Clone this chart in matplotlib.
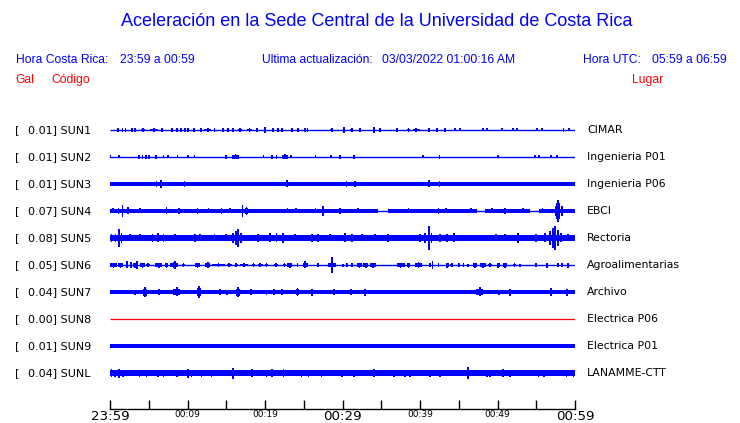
import matplotlib
matplotlib.use("Agg")
import matplotlib.pyplot as plt

# ---------------- data ----------------
codes = ["SUN1", "SUN2", "SUN3", "SUN4", "SUN5", "SUN6", "SUN7", "SUN8", "SUN9", "SUNL"]
gal = [0.01, 0.01, 0.01, 0.07, 0.08, 0.05, 0.04, 0.00, 0.01, 0.04]
places = ["CIMAR", "Ingenieria P01", "Ingenieria P06", "EBCI", "Rectoria",
          "Agroalimentarias", "Archivo", "Electrica P06", "Electrica P01", "LANAMME-CTT"]

tick_minutes = list(range(0, 61, 5))
tick_labels = ["23:59", "", "00:09", "", "00:19", "", "00:29", "", "00:39", "", "00:49", "", "00:59"]
big_labels = ["23:59", "00:29", "00:59"]

# background (noise) half-amplitude of every trace, arbitrary units
base_amp = [0.5, 0.5, 2.0, 1.8, 2.8, 0.5, 1.8, 0.5, 1.7, 2.7]
# stretches (minutes) where the SUN4 trace falls to a thin line
sun4_quiet = [(34.6, 35.9), (47.3, 48.4), (54.2, 55.4)]

# bursts: (minute, duration in minutes, half-amplitude)
sun1_bursts = [(1.0, 0, 1.8), (1.6, 0, 1.8), (2.0, 0, 1.8), (2.8, 0, 1.8), (3.2, 0, 1.8),
               (4.3, 0.5, 2.0), (5.7, 1.0, 2.0), (6.7, 0, 1.8), (8.0, 0, 1.8), (8.6, 0, 1.8),
               (9.2, 0, 1.8), (9.7, 0, 1.8), (10.1, 0, 1.8), (10.8, 0, 1.8), (11.7, 0, 1.8),
               (12.6, 0.9, 2.0), (13.5, 0, 1.8), (14.6, 0, 1.8), (15.2, 0, 1.8), (15.9, 0, 1.8),
               (16.8, 0.5, 2.0), (18.0, 0.6, 2.0), (19.0, 0, 1.8), (20.0, 0, 3.0), (21.0, 0, 1.8),
               (21.7, 0, 1.8), (22.2, 0, 1.8), (23.5, 0, 1.8), (24.3, 0, 1.8), (25.2, 0, 1.8),
               (25.5, 0, 1.8), (28.6, 0.4, 2.0), (30.2, 0, 3.0), (31.2, 0.4, 1.8), (32.3, 0, 1.8),
               (34.1, 0, 3.0), (34.8, 0, 1.8), (37.0, 0, 1.8), (38.5, 0.4, 1.8), (39.5, 0.9, 2.0),
               (41.2, 0.3, 1.8), (42.2, 0, 1.8), (43.2, 0, 1.8), (44.5, 0, 1.5), (45.2, 0, 1.5),
               (48.1, 0, 1.5), (48.6, 0, 1.5), (50.6, 0, 1.5), (52.0, 0, 1.5), (52.5, 0, 1.5),
               (55.1, 0, 1.5), (55.7, 0, 1.5), (58.5, 0, 1.8), (59.2, 0, 1.5)]
sun2_bursts = [(0.0, 0, 1.5), (1.2, 0, 1.5), (3.7, 0.3, 2.0), (4.2, 0, 1.8), (4.6, 0, 1.8),
               (5.0, 0, 1.8), (5.9, 0, 1.8), (6.9, 0, 1.5), (7.5, 0, 1.5), (8.7, 0, 1.5),
               (10.1, 0, 1.5), (10.9, 0, 1.5), (15.0, 0.3, 1.8), (16.2, 0.8, 2.5), (19.8, 0, 1.5),
               (20.9, 0.3, 1.8), (21.5, 0, 1.8), (22.6, 0.8, 2.5), (23.4, 0, 1.5), (26.5, 0, 1.5),
               (28.5, 0, 1.5), (29.7, 0, 1.8), (31.5, 0, 1.8), (40.4, 0, 1.5), (42.5, 0, 2.0),
               (50.1, 0, 1.5), (54.8, 0, 1.5), (55.4, 0, 1.5), (56.9, 0, 1.5), (57.7, 0, 1.5)]
sun3_bursts = [(6.0, 0, 3.0), (6.6, 0, 4.0), (9.6, 0, 3.0), (22.8, 0, 3.5), (30.5, 0, 3.0),
               (31.6, 0, 3.0), (41.2, 0, 3.5), (42.5, 0, 3.0)]
sun4_bursts = [(0.4, 0.4, 2.5), (1.1, 0, 3.0), (1.6, 0, 6.0), (2.3, 0.5, 3.5), (3.9, 0, 2.5),
               (7.3, 0, 3.5), (8.9, 0, 3.0), (11.3, 0, 3.0), (12.7, 0, 2.5), (14.4, 0.4, 3.0),
               (15.5, 0, 2.5), (17.1, 0, 6.0), (17.6, 0.4, 4.0), (22.9, 0, 2.5), (24.0, 0, 2.5),
               (26.5, 0, 2.5), (27.5, 0, 5.0), (29.7, 0, 3.0), (32.0, 0, 2.5), (38.5, 0, 2.5),
               (42.4, 0.3, 3.0), (43.4, 0, 2.5), (46.6, 0.3, 2.5), (49.3, 0, 2.5), (51.0, 0.4, 3.0),
               (53.3, 0, 2.5), (55.8, 0, 2.5), (57.5, 0, 5.0), (57.8, 0.5, 11.0), (58.3, 0, 5.0)]
sun5_bursts = [(0.2, 0.3, 4.0), (0.7, 0, 4.0), (1.2, 0.3, 9.0), (1.5, 0, 5.0), (2.6, 0, 3.5),
               (3.9, 0, 3.5), (5.5, 0.5, 4.0), (6.2, 0.6, 4.5), (6.9, 0.4, 4.0), (8.4, 0, 3.5),
               (11.0, 0.4, 4.0), (11.6, 0, 3.5), (13.5, 0, 3.5), (15.0, 0, 3.5), (15.9, 0.3, 5.0),
               (16.3, 0, 7.0), (16.5, 0.3, 9.0), (16.9, 0, 5.0), (19.1, 0.4, 4.0), (20.6, 0.5, 4.5),
               (21.5, 0.4, 4.5), (22.3, 0, 5.0), (23.9, 0, 3.5), (26.1, 0.4, 4.0), (26.8, 0.4, 4.0),
               (28.4, 0, 3.5), (30.3, 0.5, 4.5), (31.2, 0.4, 4.0), (32.5, 0, 3.5), (34.2, 0, 3.5),
               (35.9, 0.4, 4.0), (40.0, 0.4, 4.0), (40.6, 0, 5.0), (41.2, 0.3, 12.0), (41.5, 0, 5.0),
               (42.6, 0.5, 4.0), (43.5, 0.5, 4.0), (44.4, 0.3, 4.5), (49.8, 0, 3.5), (51.0, 0, 3.5),
               (52.6, 0, 5.0), (55.0, 0.5, 4.0), (56.1, 0.5, 4.5), (56.8, 0.3, 7.0), (57.2, 0, 10.0),
               (57.4, 0.4, 12.0), (57.8, 0, 8.0), (58.2, 0.4, 4.5), (59.1, 0, 3.5)]
sun6_bursts = [(0.45, 0.9, 2.5), (1.35, 0.6, 2.5), (2.2, 0.3, 3.5), (2.7, 0, 3.0), (3.2, 0.4, 2.5),
               (3.5, 0, 4.0), (4.2, 0.6, 2.5), (4.9, 0.4, 2.0), (6.3, 0.9, 2.5), (7.3, 0.4, 2.5),
               (8.3, 1.0, 3.0), (8.4, 0, 4.0), (9.5, 0.4, 2.0), (11.3, 0.6, 2.5), (12.6, 0.6, 3.0),
               (14.0, 1.7, 2.0), (15.4, 0.6, 2.0), (16.3, 0.4, 2.0), (17.3, 1.0, 2.0), (18.5, 0.4, 2.0),
               (19.4, 0.6, 2.0), (20.2, 0.4, 2.0), (21.4, 0.6, 2.0), (22.5, 0.3, 2.0), (23.2, 0.6, 2.5),
               (24.2, 0, 2.0), (25.2, 0.6, 3.5), (26.8, 0.3, 2.0), (28.6, 1.0, 3.0), (28.6, 0, 8.0),
               (30.1, 0, 1.5), (30.6, 0, 2.0), (31.2, 0, 2.0), (32.2, 0.6, 2.5), (33.0, 0.6, 2.5),
               (33.9, 0.8, 2.5), (37.5, 1.0, 2.5), (38.5, 0.4, 2.5), (39.8, 0.9, 3.0), (41.3, 0, 2.0),
               (41.6, 0, 4.0), (42.4, 0, 2.0), (43.5, 0.4, 2.5), (44.1, 0.4, 2.0), (45.0, 0, 2.0),
               (45.6, 0, 2.0), (46.2, 0, 1.5), (47.1, 0.6, 2.5), (48.1, 0.8, 2.5), (49.0, 0.5, 2.0),
               (50.1, 0.4, 2.5), (51.0, 0.5, 2.5), (52.2, 0.4, 2.0), (52.9, 0, 1.5), (55.0, 0, 2.0),
               (56.4, 0.2, 2.5), (57.8, 0, 2.0), (58.3, 0, 2.0), (59.1, 0, 2.5)]
sun7_bursts = [(3.2, 0.5, 2.5), (4.5, 0.6, 5.0), (6.3, 0.4, 3.0), (8.6, 0.9, 4.5), (11.5, 0.5, 6.0),
               (14.2, 0.5, 3.0), (15.1, 0, 2.5), (16.5, 0.6, 5.0), (18.2, 0.3, 3.0), (20.2, 0, 2.5),
               (21.2, 0.3, 3.0), (22.2, 0, 3.0), (24.2, 0.3, 4.0), (26.1, 0.3, 3.5), (28.9, 0, 3.0),
               (31.1, 0, 3.0), (32.9, 0, 3.5), (47.7, 0.9, 4.5), (50.2, 0, 2.5), (51.6, 0.3, 3.5),
               (56.9, 0, 4.0), (59.0, 0, 3.5)]
sun9_bursts = []
sunl_bursts = [(0.2, 0, 4.0), (0.6, 0, 3.5), (1.2, 0, 4.5), (1.7, 0, 3.5), (3.8, 0, 3.5),
               (4.7, 0, 3.5), (6.2, 0, 3.5), (6.9, 0, 3.5), (8.6, 0, 3.5), (10.1, 0, 4.5),
               (10.5, 0, 3.5), (11.8, 0, 3.5), (13.1, 0, 3.5), (15.9, 0, 5.5), (18.3, 0, 4.0),
               (20.2, 0, 3.5), (20.9, 0, 4.0), (22.4, 0, 4.0), (24.7, 0, 3.5), (25.6, 0, 3.5),
               (27.3, 0, 3.5), (29.9, 0, 3.5), (31.5, 0, 3.5), (34.1, 0, 4.0), (36.6, 0, 3.5),
               (38.1, 0, 3.5), (38.7, 0, 3.5), (41.3, 0, 3.5), (42.6, 0, 3.5), (46.2, 0, 6.0),
               (48.6, 0, 3.5), (49.0, 0, 3.5), (50.7, 0, 4.0), (51.6, 0, 3.5), (55.3, 0, 3.5),
               (56.0, 0, 3.5), (58.9, 0, 3.5), (59.8, 0, 3.5)]

bursts = [sun1_bursts, sun2_bursts, sun3_bursts, sun4_bursts, sun5_bursts,
          sun6_bursts, sun7_bursts, [], sun9_bursts, sunl_bursts]
quiet = [[], [], [], sun4_quiet, [], [], [], [], [], []]

# ---------------- figure ----------------
W, H = 740, 423
fig = plt.figure(figsize=(W / 100, H / 100), dpi=100)
fig.patch.set_facecolor("white")

BLUE = "#0000ff"
RED = "#ff0000"
HEAD = "Liberation Sans"
LAB = "DejaVu Sans"


def fx(px):
    return px / W


def fy(py):
    return 1 - py / H


fig.text(fx(377), fy(22), "Aceleración en la Sede Central de la Universidad de Costa Rica",
         ha="center", va="center", color=BLUE, fontsize=13, family=HEAD)
row2 = [(16, "Hora Costa Rica:"), (120, "23:59 a 00:59"), (262, "Ultima actualización:"),
        (382, "03/03/2022 01:00:16 AM"), (583, "Hora UTC:"), (652, "05:59 a 06:59")]
for x, s in row2:
    fig.text(fx(x), fy(60), s, ha="left", va="center", color=BLUE, fontsize=8.7, family=HEAD)
fig.text(fx(15), fy(80), "Gal", ha="left", va="center", color=RED, fontsize=8.7, family=HEAD)
fig.text(fx(51), fy(80), "Código", ha="left", va="center", color=RED, fontsize=8.7, family=HEAD)
fig.text(fx(663), fy(80), "Lugar", ha="right", va="center", color=RED, fontsize=8.7, family=HEAD)

top_px, bot_px, row0, step = 118, 409, 130, 27
ax = fig.add_axes([fx(110), fy(bot_px), fx(575) - fx(110), (bot_px - top_px) / H])
ax.set_xlim(0, 60)
ax.set_ylim((bot_px - row0) / step, (top_px - row0) / step)
s = 1.0 / step

for i, code in enumerate(codes):
    y = i
    color = RED if code == "SUN8" else BLUE
    ax.plot([0, 60], [y, y], color=color, lw=0.9 if code == "SUN8" else 1.0,
            solid_capstyle="butt")
    b = base_amp[i]
    if b > 0.6:
        # band split around quiet stretches
        edges = [0]
        for q0, q1 in quiet[i]:
            edges += [q0, q1]
        edges.append(60)
        for k in range(0, len(edges), 2):
            ax.fill_between([edges[k], edges[k + 1]], y - b * s, y + b * s,
                            color=color, lw=0)
    for t, w, a in bursts[i]:
        if w > 0:
            ax.bar(t, 2 * 0.7 * a * s, width=w, bottom=y - 0.7 * a * s,
                   color=color, lw=0)
        ax.bar(t, 2 * a * s, width=0.22, bottom=y - a * s, color=color, lw=0)

    fig.text(fx(15), fy(row0 + step * i), "[", ha="left", va="center",
             fontsize=8, family=LAB, color="black")
    fig.text(fx(28), fy(row0 + step * i), f"{gal[i]:.2f}] {code}", ha="left",
             va="center", fontsize=8, family=LAB, color="black")
    fig.text(fx(587), fy(row0 + step * i), places[i], ha="left", va="center",
             fontsize=7.8, family=LAB, color="black")

for sp in ["top", "left", "right"]:
    ax.spines[sp].set_visible(False)
ax.spines["bottom"].set_linewidth(1.0)
ax.set_yticks([])
ax.set_xticks(tick_minutes)
ax.set_xticklabels(tick_labels, family=LAB)
ax.tick_params(axis="x", direction="in", length=6.5, width=1.0, pad=0.5)
for lab in ax.get_xticklabels():
    lab.set_fontsize(9.6 if lab.get_text() in big_labels else 6.5)
ax.patch.set_alpha(0)

fig.savefig("out.png", dpi=100)
